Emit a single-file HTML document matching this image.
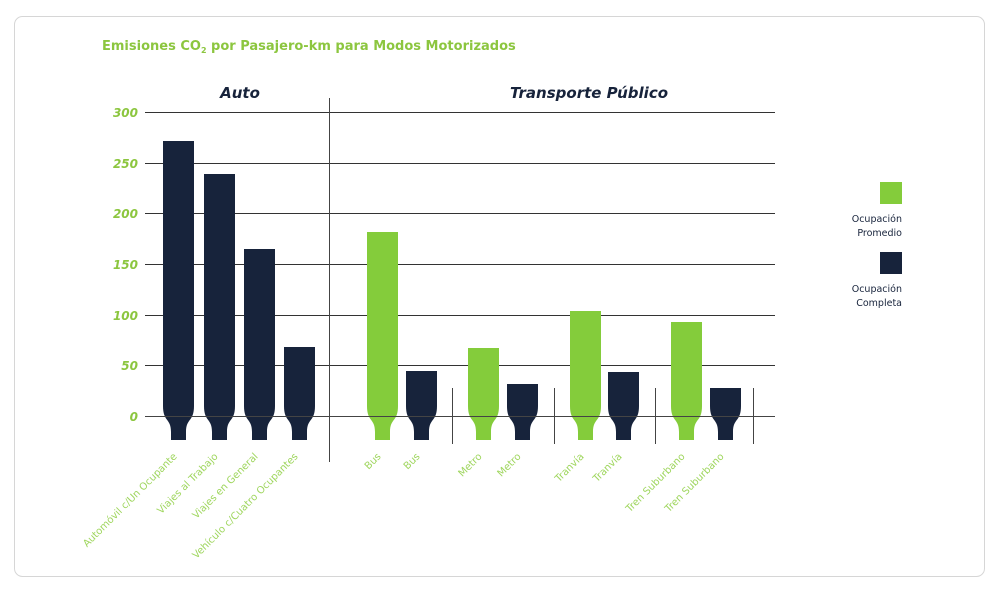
<!DOCTYPE html>
<html><head><meta charset="utf-8"><style>
body{margin:0;background:#fff;width:1000px;height:589px;overflow:hidden;font-family:"DejaVu Sans","Liberation Sans",sans-serif}
</style></head><body>
<svg width="1000" height="589" xmlns="http://www.w3.org/2000/svg">
<rect x="14.5" y="16.5" width="970" height="560" rx="8" fill="#fff" stroke="#d6d6d6"/>
<text x="102" y="50" font-size="13" font-weight="bold" fill="#8cc63f" font-family="DejaVu Sans,sans-serif">Emisiones CO<tspan font-size="8" dy="3">2</tspan><tspan dy="-3"> por Pasajero-km para Modos Motorizados</tspan></text>
<text x="240" y="98" font-size="15" font-weight="bold" font-style="italic" fill="#17233b" text-anchor="middle" font-family="DejaVu Sans,sans-serif">Auto</text>
<text x="589" y="98" font-size="15" font-weight="bold" font-style="italic" fill="#17233b" text-anchor="middle" font-family="DejaVu Sans,sans-serif">Transporte Público</text>
<g stroke="#333" stroke-width="1">
<line x1="145" y1="112.5" x2="775" y2="112.5"/><line x1="145" y1="163.5" x2="775" y2="163.5"/><line x1="145" y1="213.5" x2="775" y2="213.5"/><line x1="145" y1="264.5" x2="775" y2="264.5"/><line x1="145" y1="315.5" x2="775" y2="315.5"/><line x1="145" y1="365.5" x2="775" y2="365.5"/>
</g>
<g font-size="12" font-weight="bold" font-style="italic" fill="#8cc63f" text-anchor="end" font-family="DejaVu Sans,sans-serif">
<text x="138" y="117">300</text><text x="138" y="168">250</text><text x="138" y="218">200</text><text x="138" y="269">150</text><text x="138" y="320">100</text><text x="138" y="370">50</text><text x="138" y="421">0</text>
</g>
<g id="bars"></g>
<line x1="145" y1="416.5" x2="775" y2="416.5" stroke="#444"/>
<g stroke="#444"><line x1="329.5" y1="98" x2="329.5" y2="462"/><line x1="452.5" y1="388" x2="452.5" y2="444"/><line x1="554.5" y1="388" x2="554.5" y2="444"/><line x1="655.5" y1="388" x2="655.5" y2="444"/><line x1="753.5" y1="388" x2="753.5" y2="444"/></g>
<rect x="880" y="182" width="22" height="22" fill="#84cc3b"/>
<rect x="880" y="252" width="22" height="22" fill="#17233b"/>
<g font-size="9.5" fill="#17233b" text-anchor="end"><text x="902" y="222">Ocupación</text><text x="902" y="236">Promedio</text><text x="902" y="292">Ocupación</text><text x="902" y="306">Completa</text></g>
<g id="labels" font-size="10" fill="#9fd65e"></g>
</svg>
<script>
var bars=[[163,141,'#17233b','Automóvil c/Un Ocupante'],[204,174,'#17233b','Viajes al Trabajo'],[244,249,'#17233b','Viajes en General'],[284,347,'#17233b','Vehículo c/Cuatro Ocupantes'],
[367,232,'#84cc3b','Bus'],[406,371,'#17233b','Bus'],[468,348,'#84cc3b','Metro'],[507,384,'#17233b','Metro'],[570,311,'#84cc3b','Tranvía'],[608,372,'#17233b','Tranvía'],[671,322,'#84cc3b','Tren Suburbano'],[710,388,'#17233b','Tren Suburbano']];
var g=document.getElementById('bars'),L=document.getElementById('labels'),ns='http://www.w3.org/2000/svg';
bars.forEach(function(b){var x=b[0],w=31,t=b[1];
var d='M'+x+' '+t+'H'+(x+w)+'V406C'+(x+w)+' 422 '+(x+w-8)+' 418 '+(x+w-8)+' 432V440H'+(x+8)+'V432C'+(x+8)+' 418 '+x+' 422 '+x+' 406Z';
var p=document.createElementNS(ns,'path');p.setAttribute('d',d);p.setAttribute('fill',b[2]);g.appendChild(p);
var tx=document.createElementNS(ns,'text');var cx=x+w/2-1,cy=457;tx.setAttribute('x',cx);tx.setAttribute('y',cy);tx.setAttribute('text-anchor','end');tx.setAttribute('transform','rotate(-45 '+cx+' '+cy+')');tx.textContent=b[3];L.appendChild(tx);});
</script>
</body></html>
